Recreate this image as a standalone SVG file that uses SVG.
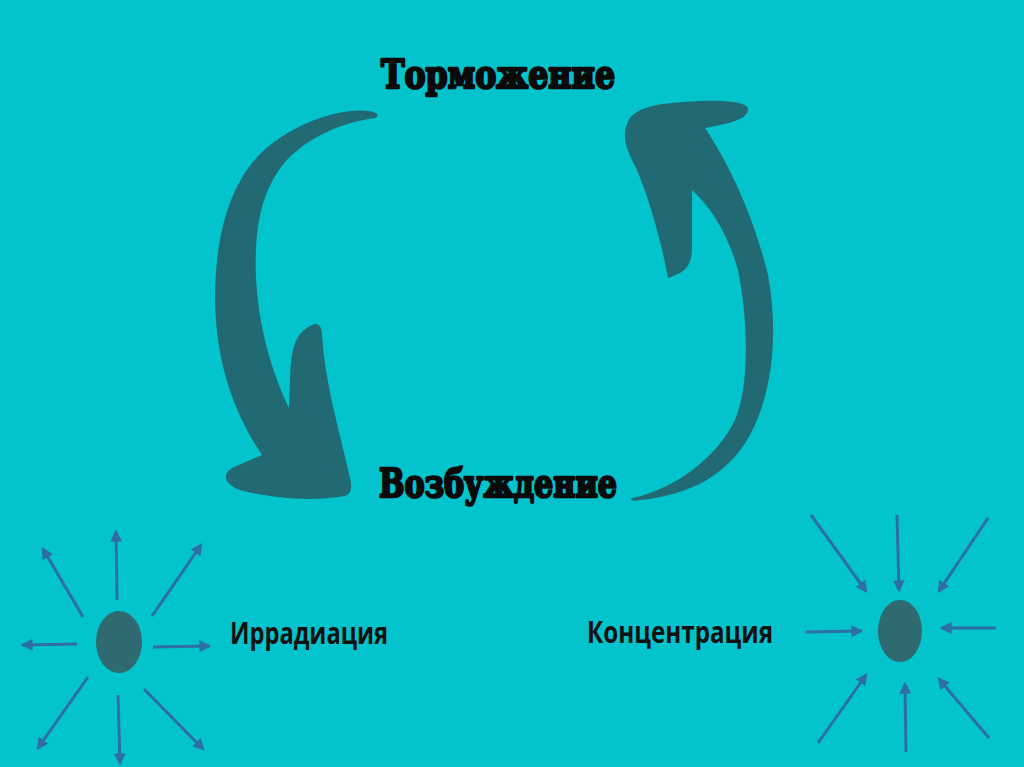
<svg xmlns="http://www.w3.org/2000/svg" width="1024" height="767" viewBox="0 0 1024 767">
<defs>
<style>
.big{fill:#226a73}
.ray{stroke:#2d6ea6;stroke-width:3;fill:none;marker-end:url(#ah)}
.dot{fill:#2e6a70}
.title{font-family:"DejaVu Serif","Liberation Serif",serif;font-weight:bold;font-size:33px;fill:#0a0a0a;stroke:#0a0a0a;stroke-width:2.2;stroke-linejoin:round}
.lbl{font-family:"Open Sans","Liberation Sans",sans-serif;font-weight:bold;font-size:30px;fill:#111}
</style>
<marker id="ah" viewBox="0 0 10 10" refX="8" refY="5" markerWidth="4" markerHeight="4" orient="auto" markerUnits="strokeWidth">
<path d="M0,0 L10,5 L0,10 z" fill="#2d6ea6"/>
</marker>
</defs>
<rect width="1024" height="767" fill="#03c3cc"/>
<g id="cycle-arrows">
<path class="big" d="M373,112 C350,106 300,118 262,152 C228,185 215,240 215,300 C216,360 232,410 262,455 L232,468 C222,474 224,484 240,490 C270,498 310,502 345,496 C352,494 352,486 350,478 C342,440 325,385 322,335 C322,326 318,322 312,325 C296,333 291,345 290,380 L289,408 C272,372 259,330 256,278 C254,225 262,190 285,162 C310,135 345,122 375,118 C379,116 378,113 373,112 Z"/>
<path class="big" d="M633,498 C675,488 715,460 735,420 C750,385 748,320 738,270 C728,235 712,208 692,190 L692,250 C691,266 686,272 668,278 C662,245 650,200 636,168 C626,148 620,135 630,118 C640,106 660,103 700,101 C725,100 745,102 748,108 C748,118 738,122 705,128 C730,165 755,220 768,275 C778,330 774,390 750,435 C728,475 690,495 640,500 C632,502 628,499 633,498 Z"/>
</g>
<g id="torm"><text class="title" transform="translate(381,88) scale(1,1.18)" textLength="234" lengthAdjust="spacingAndGlyphs">Торможение</text></g>
<g id="vozb"><text class="title" transform="translate(379,497) scale(1,1.18)" textLength="238" lengthAdjust="spacingAndGlyphs">Возбуждение</text></g>
<g id="irr-node"><ellipse class="dot" cx="119" cy="642" rx="23" ry="31"/></g>
<g id="irr-label"><text class="lbl" x="230" y="644" textLength="158" lengthAdjust="spacingAndGlyphs">Иррадиация</text></g>
<g id="conc-node"><ellipse class="dot" cx="900" cy="631" rx="22" ry="31"/></g>
<g id="conc-label"><text class="lbl" x="587" y="643" textLength="186" lengthAdjust="spacingAndGlyphs">Концентрация</text></g>
<g id="connectors">
<line class="ray" x1="117" y1="600" x2="116" y2="532"/>
<line class="ray" x1="83" y1="617" x2="43" y2="549"/>
<line class="ray" x1="152" y1="616" x2="201" y2="545"/>
<line class="ray" x1="77" y1="644" x2="23" y2="645"/>
<line class="ray" x1="153" y1="647" x2="209" y2="646"/>
<line class="ray" x1="88" y1="677" x2="38" y2="748"/>
<line class="ray" x1="118" y1="695" x2="120" y2="763"/>
<line class="ray" x1="144" y1="689" x2="203" y2="749"/>
<line class="ray" x1="811" y1="515" x2="866" y2="591"/>
<line class="ray" x1="897" y1="515" x2="899" y2="590"/>
<line class="ray" x1="988" y1="518" x2="939" y2="591"/>
<line class="ray" x1="806" y1="632" x2="861" y2="631"/>
<line class="ray" x1="996" y1="628" x2="942" y2="628"/>
<line class="ray" x1="818" y1="743" x2="866" y2="675"/>
<line class="ray" x1="906" y1="752" x2="905" y2="684"/>
<line class="ray" x1="989" y1="738" x2="939" y2="679"/>
</g>
</svg>
